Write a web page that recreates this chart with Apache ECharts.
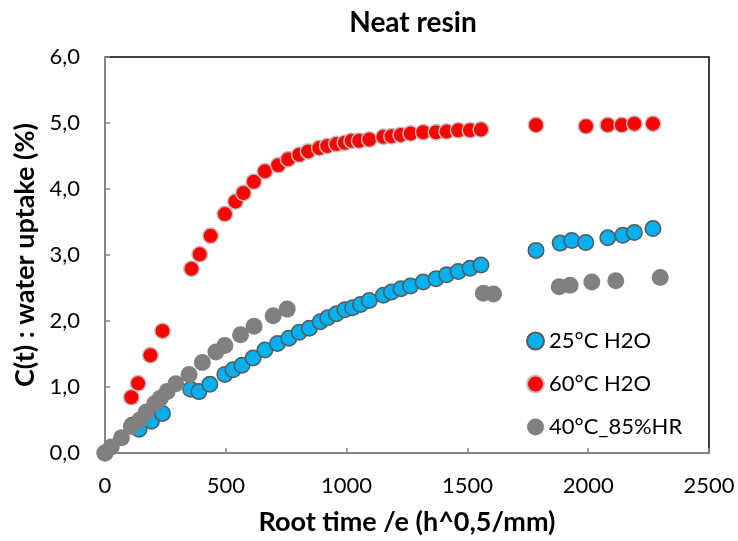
<!DOCTYPE html>
<html>
<head>
<meta charset="utf-8">
<script src="https://cdn.jsdelivr.net/npm/echarts@6/dist/echarts.min.js"></script>
<style>html,body{margin:0;padding:0;background:#fff}#c{width:738px;height:541px}</style>
</head>
<body>
<div id="c"></div>
<script>
const titleText = 'Neat resin';
const xName = 'Root time /e (h^0,5/mm)';
const yName = 'C(t) : water uptake (%)';
const seriesNames = ['25°C H2O', '60°C H2O', '40°C_85%HR'];

const x25 = [0, 113, 141, 192, 238, 355, 389, 434, 496, 530, 567, 613, 662, 714, 761, 804, 846, 891, 922, 958, 993, 1025, 1058, 1094, 1152, 1186, 1225, 1265, 1317, 1370, 1414, 1462, 1511, 1556, 1784, 1884, 1932, 1990, 2081, 2143, 2191, 2268];
const y25 = [0.0, 0.42, 0.36, 0.48, 0.60, 0.965, 0.93, 1.04, 1.19, 1.26, 1.33, 1.44, 1.56, 1.66, 1.74, 1.83, 1.89, 1.99, 2.05, 2.11, 2.17, 2.20, 2.25, 2.31, 2.39, 2.44, 2.49, 2.53, 2.59, 2.64, 2.70, 2.75, 2.80, 2.85, 3.07, 3.18, 3.22, 3.19, 3.26, 3.30, 3.34, 3.40];

const x60 = [0, 109, 137, 188, 238, 358, 392, 437, 496, 540, 573, 616, 662, 717, 758, 804, 841, 887, 920, 958, 993, 1021, 1052, 1094, 1152, 1186, 1224, 1265, 1317, 1370, 1414, 1462, 1511, 1556, 1784, 1991, 2081, 2139, 2191, 2268];
const y60 = [0.0, 0.845, 1.055, 1.48, 1.85, 2.79, 3.01, 3.29, 3.62, 3.81, 3.94, 4.11, 4.27, 4.36, 4.45, 4.52, 4.57, 4.62, 4.65, 4.68, 4.70, 4.73, 4.73, 4.75, 4.79, 4.80, 4.82, 4.84, 4.86, 4.86, 4.87, 4.89, 4.89, 4.90, 4.97, 4.95, 4.97, 4.97, 4.99, 4.99];

const x40 = [0, 26, 68, 109, 144, 171, 206, 229, 257, 293, 348, 403, 459, 496, 561, 617, 696, 754, 1566, 1608, 1880, 1925, 2015, 2114, 2298];
const y40 = [0.0, 0.09, 0.23, 0.40, 0.50, 0.62, 0.75, 0.83, 0.93, 1.05, 1.19, 1.37, 1.53, 1.63, 1.79, 1.92, 2.08, 2.18, 2.42, 2.41, 2.52, 2.54, 2.59, 2.61, 2.66];

function pairs(xs, ys) { return xs.map((v, i) => [v, ys[i]]); }

const FONT = 'Lato, "Open Sans", sans-serif';
const chart = echarts.init(document.getElementById('c'), null, {renderer: 'canvas'});
chart.setOption({
  animation: false,
  backgroundColor: '#fff',
  title: {
    text: titleText, left: 408, top: 4, textAlign: 'center',
    textStyle: {fontFamily: FONT, fontSize: 28, fontWeight: 'bold', color: '#000'}
  },
  grid: {left: 105, right: 29, top: 57, bottom: 86, show: true, borderColor: '#000', borderWidth: 1.5, backgroundColor: 'transparent'},
  legend: {
    orient: 'vertical', left: 521, top: 325, itemGap: 21, itemWidth: 17, itemHeight: 17,
    icon: 'circle', data: seriesNames,
    textStyle: {fontFamily: FONT, fontSize: 22, color: '#000'}
  },
  xAxis: {
    type: 'value', min: 0, max: 2500, interval: 500,
    name: xName, nameLocation: 'middle', nameGap: 56,
    nameTextStyle: {fontFamily: FONT, fontSize: 27, fontWeight: 'bold', color: '#000'},
    axisLine: {show: true, lineStyle: {color: '#868686', width: 2}},
    axisTick: {show: true, inside: true, length: 5, lineStyle: {color: '#868686', width: 1.5}},
    axisLabel: {fontFamily: FONT, fontSize: 22, color: '#000', margin: 22,
      formatter: v => String(v)},
    splitLine: {show: false}
  },
  yAxis: {
    type: 'value', min: 0, max: 6, interval: 1,
    name: yName, nameLocation: 'middle', nameGap: 64, nameRotate: 90,
    nameTextStyle: {fontFamily: FONT, fontSize: 27, fontWeight: 'bold', color: '#000'},
    axisLine: {show: true, lineStyle: {color: '#868686', width: 2}},
    axisTick: {show: true, inside: true, length: 5, lineStyle: {color: '#868686', width: 1.5}},
    axisLabel: {fontFamily: FONT, fontSize: 22, color: '#000', margin: 25,
      formatter: v => v.toFixed(1).replace('.', ',')},
    splitLine: {show: false}
  },
  series: [
    {name: seriesNames[0], type: 'scatter', data: pairs(x25, y25), symbolSize: 15.5,
     itemStyle: {color: '#00B0F0', borderColor: '#595959', borderWidth: 1.5, opacity: 1}},
    {name: seriesNames[1], type: 'scatter', data: pairs(x60, y60), symbolSize: 15.5,
     itemStyle: {color: '#FF0000', borderColor: '#BFBFBF', borderWidth: 1.5, opacity: 1}},
    {name: seriesNames[2], type: 'scatter', data: pairs(x40, y40), symbolSize: 17,
     itemStyle: {color: '#808080', borderColor: '#808080', borderWidth: 0, opacity: 1}}
  ]
});
</script>
</body>
</html>
